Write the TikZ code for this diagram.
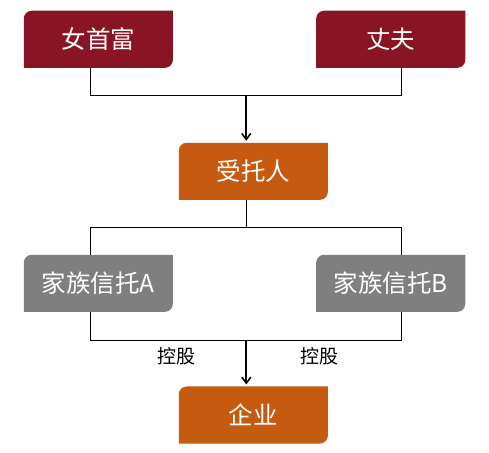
\documentclass[tikz,border=0pt]{standalone}
\usepackage{fontspec}
\newfontfamily\cjk{Noto Sans CJK SC}
\usetikzlibrary{backgrounds,arrows.meta}
\definecolor{darkred}{RGB}{137,21,36}
\definecolor{burnt}{RGB}{197,90,17}
\definecolor{midgray}{RGB}{127,127,127}
\tikzset{
  boxnode/.style={minimum width=148.7pt,minimum height=56.7pt,inner sep=0pt,text=white,font=\cjk\fontsize{24.5}{28}\selectfont},
  link/.style={line width=0.9pt,black},
  arr/.style={line width=1.8pt,black,-{Straight Barb[length=6pt,width=9pt,line width=1.6pt]}},
  lab/.style={font=\cjk\fontsize{19}{22}\selectfont,inner sep=0pt}
}
\newcommand{\diagfill}[2]{%
  \fill[#2] (#1.south west) -- ([yshift=-8pt]#1.north west) arc[start angle=180,end angle=90,radius=8pt] -- (#1.north east) -- ([yshift=8pt]#1.south east) arc[start angle=0,end angle=-90,radius=8pt] -- cycle;}
\begin{document}
\begin{tikzpicture}[x=1pt,y=-1pt]
\useasboundingbox (0,0) rectangle (489,452);
\node[boxnode] (w) at (98.3,39.3) {女首富};
\node[boxnode] (h) at (390.7,39.3) {丈夫};
\node[boxnode] (t) at (253.3,171.3) {受托人};
\node[boxnode] (fa) at (98.3,283.3) {家族信托A};
\node[boxnode] (fb) at (390.7,283.3) {家族信托B};
\node[boxnode] (e) at (253.3,415) {企业};
\begin{pgfonlayer}{background}
\diagfill{w}{darkred}
\diagfill{h}{darkred}
\diagfill{t}{burnt}
\diagfill{fa}{midgray}
\diagfill{fb}{midgray}
\diagfill{e}{burnt}
\end{pgfonlayer}
\coordinate (j1) at (246.3,95.3);
\coordinate (j2) at (246.3,227.3);
\coordinate (j3) at (246.3,340.3);
\draw[link] ([xshift=-8pt]w.south) |- (j1) -| ([xshift=11pt]h.south);
\draw[arr] (j1) -- ([xshift=-7pt,yshift=2pt]t.north);
\draw[link] ([xshift=-7pt]t.south) -- (j2);
\draw[link] ([xshift=-8pt]fa.north) |- (j2) -| ([xshift=11pt]fb.north);
\draw[link] ([xshift=-8pt]fa.south) |- (j3) -| ([xshift=11pt]fb.south);
\draw[arr] (j3) -- ([xshift=-7pt,yshift=2pt]e.north);
\node[lab] (k1) at (176.5,356.5) {控股};
\node[lab] (k2) at (319.3,356.5) {控股};
\end{tikzpicture}
\end{document}
